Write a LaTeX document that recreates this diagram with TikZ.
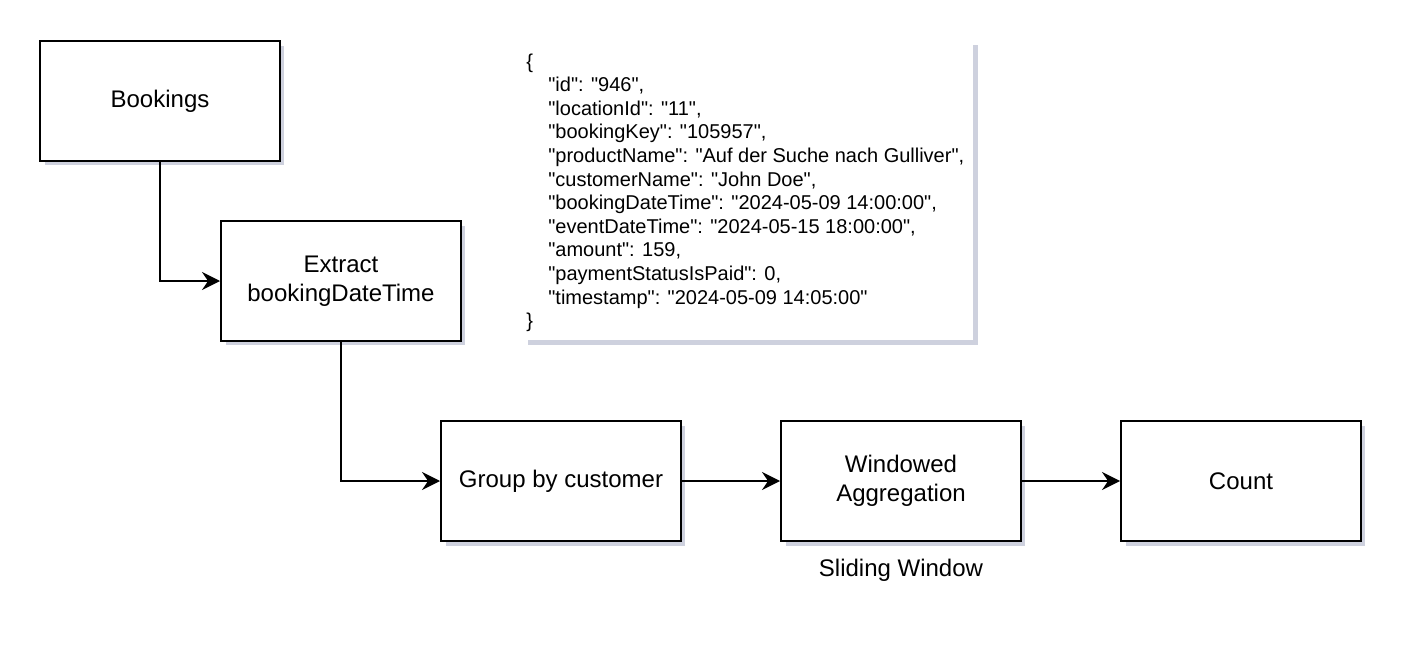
\documentclass[tikz,border=0pt]{standalone}
\usepackage{fontspec}
\setmainfont{Liberation Sans}[Ligatures=TeXOff]
\usepackage{tikz}
\usetikzlibrary{shapes}
\usetikzlibrary{arrows.meta}
\usetikzlibrary{shadows}
\usetikzlibrary{positioning}
\definecolor{shade}{HTML}{AEB3C8}
\newcommand{\boxfont}{\fontsize{13.66pt}{16.4pt}\selectfont}
\newcommand{\jsonfont}{\fontsize{11.38pt}{13.45pt}\selectfont}

\begin{document}
\begin{tikzpicture}[
  x=0.02cm, y=-0.02cm,
  dep/.style ={
    -{Stealth[length=3.6mm,width=3.6mm,inset=1.2mm]},line width=0.04cm
  },
  proc/.style={
    rectangle,
    draw=black,
    line width=0.04cm,
    fill=white,
    minimum width=4.8cm,
    minimum height=2.4cm,
    align=center,
    font=\boxfont,
    drop shadow={shadow xshift=0.09cm,shadow yshift=-0.09cm,fill=shade,opacity=0.6}},
  json/.style={
    rectangle,
    fill=white,
    minimum width=9cm,
    minimum height=6.02cm,
    drop shadow={shadow xshift=0.1cm,shadow yshift=-0.1cm,fill=shade,opacity=0.6}},
  jsontxt/.style={
    anchor=base west,
    inner sep=0pt,
    font=\jsonfont},
]

  \useasboundingbox[fill=white] (0,0) rectangle (1414,654);

  \def\rowbase{481}%
  \def\lineh{23.6}%

    % Pipeline steps
    \node[proc] (book) at (160,101) {Bookings};
    \node[proc] (extract) at (341,281) {Extract\\bookingDateTime};
    \node[proc] (group) at (561,\rowbase) {Group by customer};
    \node[proc] (win) at (901,\rowbase) {Windowed\\Aggregation};
    \node[proc] (count) at (1241,\rowbase) {Count};

    \node[font=\boxfont] (slide) at (901,570) {Sliding Window};

    \draw[dep] (book.south) |- (extract.west);
    \draw[dep] (extract.south) |- (group.west);
    \draw[dep] (group) to (win);
    \draw[dep] (win) to (count);

    % Sample record
    \node[json] (rec) at (748,190) {};
    \node[jsontxt] (open) at (526,68) {\{};
    \foreach \txt [count=\i] in {
        {"id": "946",},
        {"locationId": "11",},
        {"bookingKey": "105957",},
        {"productName": "Auf der Suche nach Gulliver",},
        {"customerName": "John Doe",},
        {"bookingDateTime": "2024-05-09 14:00:00",},
        {"eventDateTime": "2024-05-15 18:00:00",},
        {"amount": 159,},
        {"paymentStatusIsPaid": 0,},
        {"timestamp": "2024-05-09 14:05:00"}} {
      \node[jsontxt] (field\i) at (548,68+\lineh*\i) {\txt};
    }
    \node[jsontxt] (close) at (526,68+\lineh*11) {\}};

\end{tikzpicture}
\end{document}
